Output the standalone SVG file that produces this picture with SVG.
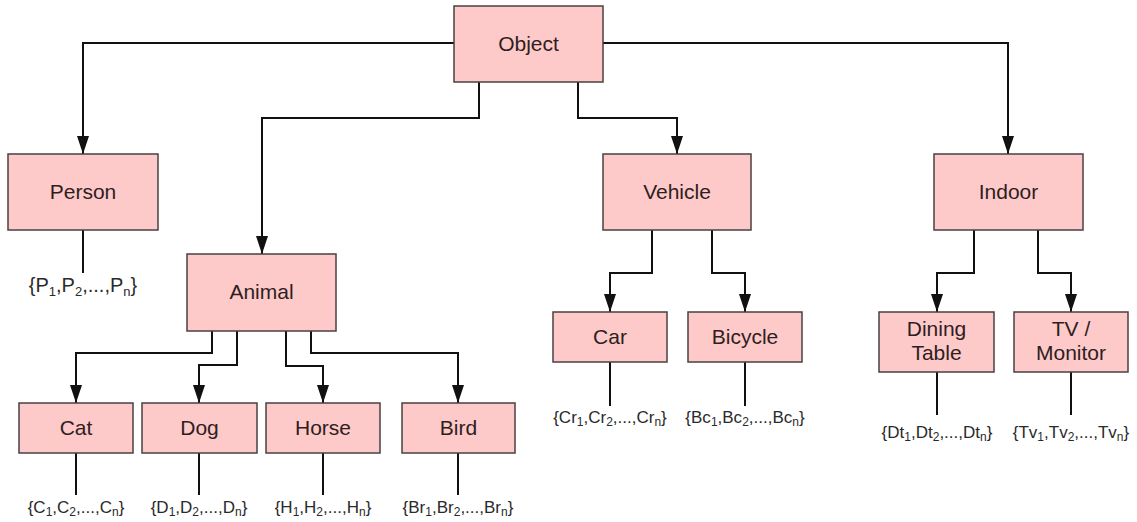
<svg xmlns="http://www.w3.org/2000/svg" width="1137" height="522" viewBox="0 0 1137 522">
  <style>
    .box { fill: #fec9c9; stroke: #4a4040; stroke-width: 1.5; }
    .name { font-family: "Liberation Sans", Arial, sans-serif; font-size: 21px; fill: #2e1e1e; text-anchor: middle; }
    .set { font-family: "Liberation Sans", Arial, sans-serif; font-size: 17px; fill: #2a2a2a; text-anchor: middle; }
    .set.big { font-size: 20px; }
    .link { fill: none; stroke: #111; stroke-width: 2; }
    .arrow { marker-end: url(#head); }
  </style>
  <defs>
    <marker id="head" viewBox="0 -6 18 12" refX="18" refY="0" markerWidth="18" markerHeight="12" markerUnits="userSpaceOnUse" orient="auto">
      <path d="M0,-6 L18,0 L0,6 z" fill="#111"/>
    </marker>
  </defs>
  <rect width="1137" height="522" fill="#fff"/>

  <!-- connectors -->
  <g id="connectors">
    <path class="link arrow" d="M454,43 H83 V154"/>
    <path class="link arrow" d="M479,82 V118 H262 V254"/>
    <path class="link arrow" d="M578,82 V118 H677 V154"/>
    <path class="link arrow" d="M603,43 H1008 V154"/>

    <path class="link arrow" d="M212,331 V353 H76 V403"/>
    <path class="link arrow" d="M237,331 V365 H199 V403"/>
    <path class="link arrow" d="M286,331 V366 H323 V403"/>
    <path class="link arrow" d="M311,331 V353 H458 V403"/>

    <path class="link arrow" d="M652,230 V273 H610 V312"/>
    <path class="link arrow" d="M712,230 V273 H745 V312"/>
    <path class="link arrow" d="M974,230 V273 H937 V312"/>
    <path class="link arrow" d="M1038,230 V273 H1071 V312"/>

    <!-- instance-set stems -->
    <path class="link" d="M83,230 V273"/>
    <path class="link" d="M76,453 V495"/>
    <path class="link" d="M199,453 V495"/>
    <path class="link" d="M323,453 V495"/>
    <path class="link" d="M458,453 V495"/>
    <path class="link" d="M610,362 V406"/>
    <path class="link" d="M745,362 V406"/>
    <path class="link" d="M937,372 V415"/>
    <path class="link" d="M1071,372 V415"/>
  </g>

  <!-- nodes -->
  <g id="object">
    <rect class="box" x="454" y="6" width="149" height="76"/>
    <text class="name" x="528.5" y="51">Object</text>
  </g>
  <g id="person">
    <rect class="box" x="8" y="154" width="150" height="76"/>
    <text class="name" x="83" y="199">Person</text>
    <text class="set big" x="83" y="292">{P<tspan font-size="13" dy="4">1</tspan><tspan dy="-4">,P</tspan><tspan font-size="13" dy="4">2</tspan><tspan dy="-4">,...,P</tspan><tspan font-size="13" dy="4">n</tspan><tspan dy="-4">}</tspan></text>
  </g>
  <g id="animal">
    <rect class="box" x="187" y="254" width="149" height="77"/>
    <text class="name" x="261.5" y="299">Animal</text>
  </g>
  <g id="vehicle">
    <rect class="box" x="603" y="154" width="148" height="76"/>
    <text class="name" x="677" y="199">Vehicle</text>
  </g>
  <g id="indoor">
    <rect class="box" x="934" y="154" width="149" height="76"/>
    <text class="name" x="1008.5" y="199">Indoor</text>
  </g>
  <g id="cat">
    <rect class="box" x="19" y="403" width="114" height="50"/>
    <text class="name" x="76" y="435">Cat</text>
    <text class="set" x="76" y="513">{C<tspan font-size="12" dy="3">1</tspan><tspan dy="-3">,C</tspan><tspan font-size="12" dy="3">2</tspan><tspan dy="-3">,...,C</tspan><tspan font-size="12" dy="3">n</tspan><tspan dy="-3">}</tspan></text>
  </g>
  <g id="dog">
    <rect class="box" x="142" y="403" width="115" height="50"/>
    <text class="name" x="199.5" y="435">Dog</text>
    <text class="set" x="199" y="513">{D<tspan font-size="12" dy="3">1</tspan><tspan dy="-3">,D</tspan><tspan font-size="12" dy="3">2</tspan><tspan dy="-3">,...,D</tspan><tspan font-size="12" dy="3">n</tspan><tspan dy="-3">}</tspan></text>
  </g>
  <g id="horse">
    <rect class="box" x="266" y="403" width="114" height="50"/>
    <text class="name" x="323" y="435">Horse</text>
    <text class="set" x="323" y="513">{H<tspan font-size="12" dy="3">1</tspan><tspan dy="-3">,H</tspan><tspan font-size="12" dy="3">2</tspan><tspan dy="-3">,...,H</tspan><tspan font-size="12" dy="3">n</tspan><tspan dy="-3">}</tspan></text>
  </g>
  <g id="bird">
    <rect class="box" x="402" y="403" width="113" height="50"/>
    <text class="name" x="458.5" y="435">Bird</text>
    <text class="set" x="458" y="513">{Br<tspan font-size="12" dy="3">1</tspan><tspan dy="-3">,Br</tspan><tspan font-size="12" dy="3">2</tspan><tspan dy="-3">,...,Br</tspan><tspan font-size="12" dy="3">n</tspan><tspan dy="-3">}</tspan></text>
  </g>
  <g id="car">
    <rect class="box" x="553" y="312" width="114" height="50"/>
    <text class="name" x="610" y="344">Car</text>
    <text class="set" x="610" y="423">{Cr<tspan font-size="12" dy="3">1</tspan><tspan dy="-3">,Cr</tspan><tspan font-size="12" dy="3">2</tspan><tspan dy="-3">,...,Cr</tspan><tspan font-size="12" dy="3">n</tspan><tspan dy="-3">}</tspan></text>
  </g>
  <g id="bicycle">
    <rect class="box" x="688" y="312" width="114" height="50"/>
    <text class="name" x="745" y="344">Bicycle</text>
    <text class="set" x="745" y="423">{Bc<tspan font-size="12" dy="3">1</tspan><tspan dy="-3">,Bc</tspan><tspan font-size="12" dy="3">2</tspan><tspan dy="-3">,...,Bc</tspan><tspan font-size="12" dy="3">n</tspan><tspan dy="-3">}</tspan></text>
  </g>
  <g id="dining-table">
    <rect class="box" x="879" y="312" width="115" height="60"/>
    <text class="name" x="936.5" y="336">Dining</text>
    <text class="name" x="936.5" y="360">Table</text>
    <text class="set" x="937" y="438">{Dt<tspan font-size="12" dy="3">1</tspan><tspan dy="-3">,Dt</tspan><tspan font-size="12" dy="3">2</tspan><tspan dy="-3">,...,Dt</tspan><tspan font-size="12" dy="3">n</tspan><tspan dy="-3">}</tspan></text>
  </g>
  <g id="tv-monitor">
    <rect class="box" x="1014" y="312" width="114" height="60"/>
    <text class="name" x="1071" y="336">TV /</text>
    <text class="name" x="1071" y="360">Monitor</text>
    <text class="set" x="1071" y="438">{Tv<tspan font-size="12" dy="3">1</tspan><tspan dy="-3">,Tv</tspan><tspan font-size="12" dy="3">2</tspan><tspan dy="-3">,...,Tv</tspan><tspan font-size="12" dy="3">n</tspan><tspan dy="-3">}</tspan></text>
  </g>
</svg>
